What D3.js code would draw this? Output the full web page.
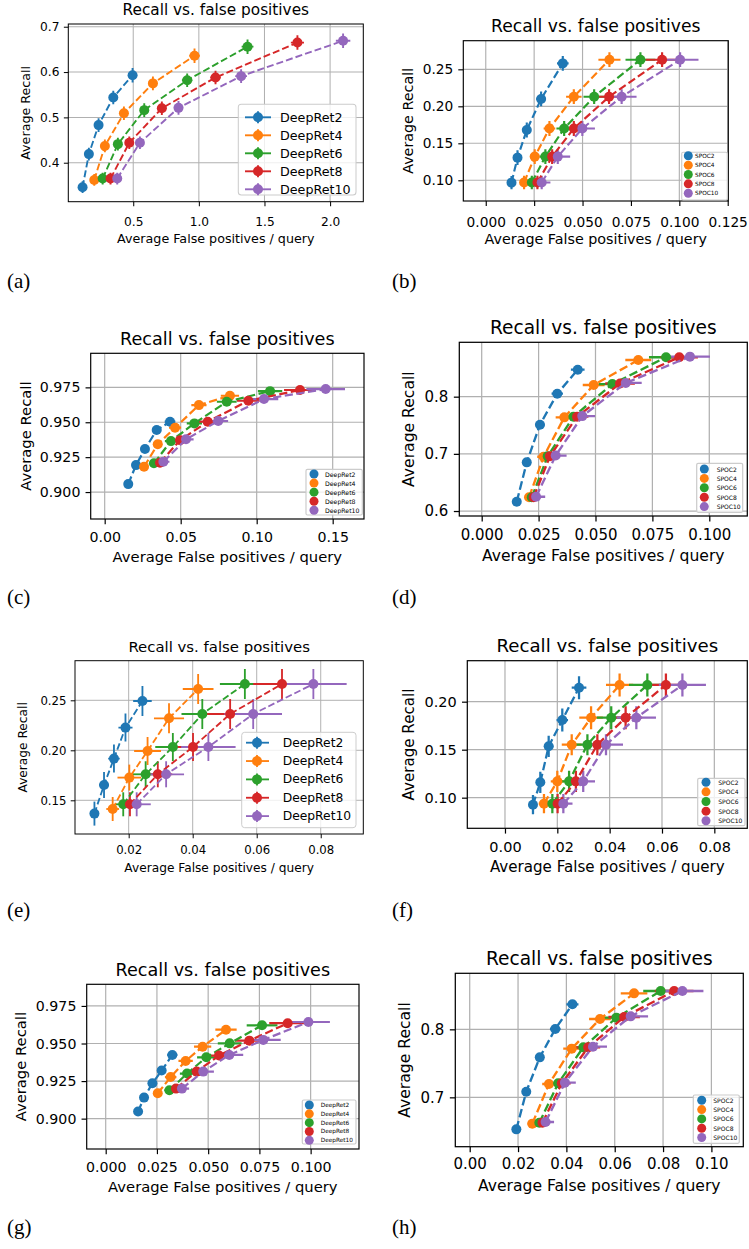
<!DOCTYPE html>
<html>
<head>
<meta charset="utf-8">
<script src="https://cdn.jsdelivr.net/npm/d3@7"></script>
<style>
  html, body { margin: 0; padding: 0; background: #fff; }
  svg { display: block; }
</style>
</head>
<body>
<svg id="chart" width="749" height="1249"></svg>
<script>
// ---------------- DATA ----------------
const deepRetNames = ["DeepRet2", "DeepRet4", "DeepRet6", "DeepRet8", "DeepRet10"];
const spocNames = ["SPOC2", "SPOC4", "SPOC6", "SPOC8", "SPOC10"];
const seriesColors = ["#1f77b4", "#ff7f0e", "#2ca02c", "#d62728", "#9467bd"];
const titleText = "Recall vs. false positives";
const xLabelText = "Average False positives / query";
const yLabelText = "Average Recall";
const panelTags = ["(a)", "(b)", "(c)", "(d)", "(e)", "(f)", "(g)", "(h)"];

// (a)
const fpA = [
  [0.114, 0.162, 0.236, 0.348, 0.495],
  [0.203, 0.284, 0.429, 0.650, 0.967],
  [0.267, 0.383, 0.584, 0.911, 1.371],
  [0.327, 0.470, 0.718, 1.127, 1.751],
  [0.378, 0.551, 0.845, 1.322, 2.099]];
const recallA = [
  [0.346, 0.419, 0.483, 0.544, 0.593],
  [0.362, 0.437, 0.509, 0.575, 0.636],
  [0.365, 0.441, 0.516, 0.582, 0.656],
  [0.365, 0.444, 0.520, 0.588, 0.665],
  [0.365, 0.444, 0.521, 0.591, 0.669]];
const fpErrA = [
  [0.015, 0.020, 0.025, 0.030, 0.035],
  [0.020, 0.025, 0.030, 0.035, 0.040],
  [0.020, 0.025, 0.030, 0.040, 0.045],
  [0.020, 0.025, 0.035, 0.040, 0.050],
  [0.020, 0.030, 0.035, 0.045, 0.055]];
const recallErrA = [
  [0.013, 0.014, 0.015, 0.015, 0.016],
  [0.013, 0.014, 0.015, 0.015, 0.016],
  [0.013, 0.014, 0.015, 0.015, 0.016],
  [0.013, 0.014, 0.015, 0.015, 0.016],
  [0.013, 0.014, 0.015, 0.015, 0.016]];
const xTicksA = [0.5, 1.0, 1.5, 2.0];
const yTicksA = [0.4, 0.5, 0.6, 0.7];

// (b)
const fpB = [
  [0.0133, 0.0164, 0.0212, 0.0286, 0.0398],
  [0.0198, 0.0253, 0.0329, 0.0455, 0.0639],
  [0.0238, 0.0308, 0.0405, 0.0560, 0.0799],
  [0.0267, 0.0343, 0.0455, 0.0637, 0.0911],
  [0.0289, 0.0372, 0.0499, 0.0702, 0.1004]];
const recallB = [
  [0.0968, 0.1306, 0.168, 0.210, 0.258],
  [0.097, 0.132, 0.170, 0.213, 0.263],
  [0.097, 0.132, 0.170, 0.213, 0.263],
  [0.097, 0.132, 0.170, 0.213, 0.263],
  [0.097, 0.132, 0.170, 0.213, 0.263]];
const fpErrB = [
  [0.0012, 0.0015, 0.0020, 0.0025, 0.0030],
  [0.0020, 0.0025, 0.0030, 0.0040, 0.0057],
  [0.0025, 0.0030, 0.0040, 0.0055, 0.0077],
  [0.0030, 0.0035, 0.0045, 0.0060, 0.0085],
  [0.0045, 0.0064, 0.0065, 0.0077, 0.0095]];
const recallErrB = [
  [0.009, 0.010, 0.010, 0.010, 0.010],
  [0.009, 0.010, 0.010, 0.010, 0.010],
  [0.009, 0.010, 0.010, 0.010, 0.010],
  [0.009, 0.010, 0.010, 0.010, 0.010],
  [0.009, 0.010, 0.010, 0.010, 0.010]];
const xTicksB = [0, 0.025, 0.05, 0.075, 0.1, 0.125];
const yTicksB = [0.10, 0.15, 0.20, 0.25];

// (c)
const fpC = [
  [0.0155, 0.0206, 0.0265, 0.0342, 0.0430],
  [0.0259, 0.0349, 0.0463, 0.0620, 0.0824],
  [0.0324, 0.0436, 0.0590, 0.0803, 0.1088],
  [0.0364, 0.0496, 0.0678, 0.0945, 0.1285],
  [0.0386, 0.0535, 0.0747, 0.1048, 0.1454]];
const recallC = [
  [0.9057, 0.9193, 0.9308, 0.9444, 0.9504],
  [0.9181, 0.9342, 0.9461, 0.9623, 0.9690],
  [0.9206, 0.9365, 0.9492, 0.9647, 0.9723],
  [0.9210, 0.9372, 0.9504, 0.9654, 0.9731],
  [0.9217, 0.9378, 0.9509, 0.9666, 0.9738]];
const fpErrC = [
  [0.0015, 0.0020, 0.0025, 0.0030, 0.0035],
  [0.0025, 0.0030, 0.0040, 0.0050, 0.0060],
  [0.0030, 0.0040, 0.0050, 0.0065, 0.0080],
  [0.0035, 0.0045, 0.0060, 0.0075, 0.0105],
  [0.0040, 0.0050, 0.0065, 0.0094, 0.0127]];
const recallErrC = [
  [0.0010, 0.0010, 0.0010, 0.0010, 0.0010],
  [0.0010, 0.0010, 0.0010, 0.0010, 0.0010],
  [0.0010, 0.0010, 0.0010, 0.0010, 0.0010],
  [0.0010, 0.0010, 0.0010, 0.0010, 0.0010],
  [0.0010, 0.0010, 0.0010, 0.0010, 0.0010]];
const xTicksC = [0, 0.05, 0.10, 0.15];
const yTicksC = [0.900, 0.925, 0.950, 0.975];

// (d)
const fpD = [
  [0.0154, 0.0198, 0.0256, 0.0332, 0.0422],
  [0.0208, 0.0272, 0.0363, 0.0492, 0.0688],
  [0.0220, 0.0290, 0.0403, 0.0574, 0.0810],
  [0.0228, 0.0300, 0.0419, 0.0608, 0.0868],
  [0.0239, 0.0325, 0.0442, 0.0633, 0.0915]];
const recallD = [
  [0.6163, 0.6851, 0.7510, 0.8052, 0.8472],
  [0.624, 0.695, 0.7638, 0.8204, 0.8641],
  [0.624, 0.696, 0.765, 0.822, 0.869],
  [0.624, 0.696, 0.765, 0.823, 0.869],
  [0.625, 0.697, 0.766, 0.824, 0.870]];
const fpErrD = [
  [0.0012, 0.0015, 0.0020, 0.0025, 0.0030],
  [0.0020, 0.0028, 0.0038, 0.0048, 0.0057],
  [0.0025, 0.0032, 0.0045, 0.0060, 0.0075],
  [0.0030, 0.0038, 0.0050, 0.0065, 0.0082],
  [0.0040, 0.0048, 0.0056, 0.0070, 0.0088]];
const recallErrD = [
  [0.002, 0.002, 0.002, 0.002, 0.002],
  [0.002, 0.002, 0.002, 0.002, 0.002],
  [0.002, 0.002, 0.002, 0.002, 0.002],
  [0.002, 0.002, 0.002, 0.002, 0.002],
  [0.002, 0.002, 0.002, 0.002, 0.002]];
const xTicksD = [0, 0.025, 0.05, 0.075, 0.1];
const yTicksD = [0.6, 0.7, 0.8];

// (e)
const fpE = [
  [0.0093, 0.0123, 0.0154, 0.0190, 0.0243],
  [0.0150, 0.0202, 0.0259, 0.0326, 0.0417],
  [0.0183, 0.0253, 0.0338, 0.0430, 0.0563],
  [0.0204, 0.0291, 0.0401, 0.0517, 0.0679],
  [0.0225, 0.0317, 0.0449, 0.0589, 0.0777]];
const recallE = [
  [0.1367, 0.1653, 0.1917, 0.2227, 0.2493],
  [0.1413, 0.1727, 0.1993, 0.2320, 0.2613],
  [0.146, 0.176, 0.2033, 0.2363, 0.2663],
  [0.146, 0.176, 0.2033, 0.2363, 0.2663],
  [0.146, 0.176, 0.2033, 0.2363, 0.2663]];
const fpErrE = [
  [0.0012, 0.0015, 0.0018, 0.0022, 0.0029],
  [0.0020, 0.0037, 0.0042, 0.0047, 0.0048],
  [0.0025, 0.0040, 0.0055, 0.0065, 0.0078],
  [0.0030, 0.0045, 0.0065, 0.0075, 0.0090],
  [0.0044, 0.0056, 0.0085, 0.0090, 0.0104]];
const recallErrE = [
  [0.012, 0.013, 0.014, 0.014, 0.015],
  [0.012, 0.013, 0.014, 0.015, 0.015],
  [0.012, 0.013, 0.014, 0.015, 0.015],
  [0.012, 0.013, 0.014, 0.015, 0.015],
  [0.012, 0.013, 0.014, 0.015, 0.015]];
const xTicksE = [0.02, 0.04, 0.06, 0.08];
const yTicksE = [0.15, 0.20, 0.25];

// (f)
const fpF = [
  [0.0107, 0.0135, 0.0167, 0.0219, 0.0283],
  [0.0149, 0.0200, 0.0255, 0.0329, 0.0438],
  [0.0181, 0.0245, 0.0315, 0.0406, 0.0544],
  [0.0201, 0.0271, 0.0353, 0.0461, 0.0615],
  [0.0223, 0.0299, 0.0386, 0.0502, 0.0678]];
const recallF = [
  [0.0927, 0.1160, 0.1535, 0.1809, 0.2146],
  [0.0938, 0.1170, 0.1552, 0.1833, 0.2174],
  [0.0938, 0.1170, 0.1552, 0.1833, 0.2174],
  [0.0938, 0.1170, 0.1552, 0.1833, 0.2174],
  [0.0938, 0.1170, 0.1552, 0.1833, 0.2174]];
const fpErrF = [
  [0.0012, 0.0015, 0.0018, 0.0022, 0.0028],
  [0.0020, 0.0025, 0.0038, 0.0045, 0.0052],
  [0.0025, 0.0030, 0.0045, 0.0055, 0.0070],
  [0.0030, 0.0035, 0.0050, 0.0063, 0.0078],
  [0.0035, 0.0045, 0.0065, 0.0075, 0.0090]];
const recallErrF = [
  [0.010, 0.011, 0.011, 0.012, 0.012],
  [0.010, 0.011, 0.011, 0.012, 0.012],
  [0.010, 0.011, 0.011, 0.012, 0.012],
  [0.010, 0.011, 0.011, 0.012, 0.012],
  [0.010, 0.011, 0.011, 0.012, 0.012]];
const xTicksF = [0, 0.02, 0.04, 0.06, 0.08];
const yTicksF = [0.10, 0.15, 0.20];

// (g)
const fpG = [
  [0.0158, 0.0187, 0.0228, 0.0273, 0.0325],
  [0.0254, 0.0317, 0.0390, 0.0473, 0.0587],
  [0.0311, 0.0397, 0.0491, 0.0605, 0.0763],
  [0.0343, 0.0444, 0.0553, 0.0701, 0.0888],
  [0.0372, 0.0476, 0.0603, 0.0769, 0.0989]];
const recallG = [
  [0.9047, 0.9140, 0.9235, 0.9320, 0.9424],
  [0.9169, 0.9277, 0.9384, 0.9479, 0.9592],
  [0.9189, 0.9300, 0.9408, 0.9501, 0.9621],
  [0.9200, 0.9313, 0.9420, 0.9519, 0.9635],
  [0.9200, 0.9313, 0.9424, 0.9524, 0.9643]];
const fpErrG = [
  [0.0010, 0.0012, 0.0015, 0.0020, 0.0025],
  [0.0020, 0.0028, 0.0035, 0.0042, 0.0052],
  [0.0025, 0.0035, 0.0045, 0.0058, 0.0075],
  [0.0030, 0.0040, 0.0055, 0.0070, 0.0090],
  [0.0035, 0.0052, 0.0068, 0.0085, 0.0105]];
const recallErrG = [
  [0.0015, 0.0015, 0.0015, 0.0015, 0.0015],
  [0.0015, 0.0015, 0.0015, 0.0015, 0.0015],
  [0.0015, 0.0015, 0.0015, 0.0015, 0.0015],
  [0.0015, 0.0015, 0.0015, 0.0015, 0.0015],
  [0.0015, 0.0015, 0.0015, 0.0015, 0.0015]];
const xTicksG = [0, 0.025, 0.05, 0.075, 0.1];
const yTicksG = [0.900, 0.925, 0.950, 0.975];

// (h)
const fpH = [
  [0.0193, 0.0234, 0.0290, 0.0354, 0.0425],
  [0.0259, 0.0328, 0.0422, 0.0539, 0.0680],
  [0.0288, 0.0366, 0.0470, 0.0607, 0.0790],
  [0.0301, 0.0381, 0.0490, 0.0639, 0.0846],
  [0.0314, 0.0394, 0.0510, 0.0666, 0.0880]];
const recallH = [
  [0.6529, 0.7083, 0.7588, 0.8005, 0.8368],
  [0.6613, 0.7196, 0.7716, 0.8152, 0.8529],
  [0.6627, 0.7206, 0.7735, 0.8172, 0.8564],
  [0.6627, 0.7206, 0.7735, 0.8181, 0.8564],
  [0.6637, 0.7216, 0.7745, 0.8191, 0.8564]];
const fpErrH = [
  [0.0012, 0.0015, 0.0018, 0.0022, 0.0025],
  [0.0020, 0.0028, 0.0035, 0.0045, 0.0055],
  [0.0025, 0.0032, 0.0045, 0.0058, 0.0072],
  [0.0030, 0.0037, 0.0050, 0.0065, 0.0080],
  [0.0035, 0.0045, 0.0058, 0.0072, 0.0087]];
const recallErrH = [
  [0.003, 0.003, 0.003, 0.003, 0.003],
  [0.003, 0.003, 0.003, 0.003, 0.003],
  [0.003, 0.003, 0.003, 0.003, 0.003],
  [0.003, 0.003, 0.003, 0.003, 0.003],
  [0.003, 0.003, 0.003, 0.003, 0.003]];
const xTicksH = [0, 0.02, 0.04, 0.06, 0.08, 0.10];
const yTicksH = [0.7, 0.8];

// ---------------- LAYOUT ----------------
const panels = [
  { box: [68.3, 24, 363.3, 201.7], xdom: [0.0053, 2.253], ydom: [0.314, 0.706],
    xt: xTicksA, yt: yTicksA, xf: ".1f", yf: ".1f", fs: 12.7, tfs: 15.3, tickDy: 24.5, labDy: 41, ylabX: 25,
    fp: fpA, rec: recallA, fpe: fpErrA, rece: recallErrA, names: deepRetNames,
    leg: { big: true, box: [238.3, 104.3, 356, 195], l0: 245, l1: 271, mx: 258, tx: 280, y0: 117.3, dy: 18, fs: 12.7 },
    tag: [7, 288] },
  { box: [463.3, 40.7, 728.3, 201], xdom: [-0.0116, 0.1253], ydom: [0.072, 0.2887],
    xt: xTicksB, yt: yTicksB, xf: ".3f", yf: ".2f", fs: 14.3, tfs: 17.2, tickDy: 26, labDy: 42.7, ylabX: 408.3,
    fp: fpB, rec: recallB, fpe: fpErrB, rece: recallErrB, names: spocNames,
    leg: { big: false, box: [681.7, 152.3, 727.3, 200], mx: 688.3, tx: 695, y0: 155.8, dy: 9.35, fs: 5.8 },
    tag: [392, 288] },
  { box: [90.7, 353.3, 364, 519], xdom: [-0.0092, 0.1706], ydom: [0.8807, 0.9994],
    xt: xTicksC, yt: yTicksC, xf: ".2f", yf: ".3f", fs: 14.75, tfs: 17.6, tickDy: 22.5, labDy: 42.7, ylabX: 25,
    fp: fpC, rec: recallC, fpe: fpErrC, rece: recallErrC, names: deepRetNames,
    leg: { big: false, box: [306, 469.3, 362.3, 515], mx: 314, tx: 325, y0: 474, dy: 9.07, fs: 6.2 },
    tag: [7, 604] },
  { box: [459.3, 342.3, 747.3, 516], xdom: [-0.00984, 0.1167], ydom: [0.5913, 0.8951],
    xt: xTicksD, yt: yTicksD, xf: ".3f", yf: ".1f", fs: 15.6, tfs: 18.6, tickDy: 24, labDy: 44.7, ylabX: 409.3,
    fp: fpD, rec: recallD, fpe: fpErrD, rece: recallErrD, names: spocNames,
    leg: { big: false, box: [696.7, 463.3, 742.7, 512.3], mx: 704.3, tx: 716.7, y0: 469, dy: 9.4, fs: 6 },
    tag: [392, 604] },
  { box: [75, 660.7, 363.3, 834], xdom: [0.00323, 0.0933], ydom: [0.1163, 0.2896],
    xt: xTicksE, yt: yTicksE, xf: ".2f", yf: ".2f", fs: 12.2, tfs: 14.9, tickDy: 20.3, labDy: 38.3, ylabX: 23.3,
    fp: fpE, rec: recallE, fpe: fpErrE, rece: recallErrE, names: deepRetNames,
    leg: { big: true, box: [241.7, 732.3, 356, 827.7], l0: 246, l1: 269, mx: 257, tx: 282.7, y0: 742.7, dy: 18.35, fs: 12.3 },
    tag: [7, 917] },
  { box: [467.3, 660.7, 747.3, 828.3], xdom: [-0.0144, 0.0926], ydom: [0.0681, 0.2427],
    xt: xTicksF, yt: yTicksF, xf: ".2f", yf: ".2f", fs: 15.1, tfs: 18.2, tickDy: 23.4, labDy: 43.7, ylabX: 409.3,
    fp: fpF, rec: recallF, fpe: fpErrF, rece: recallErrF, names: spocNames,
    leg: { big: false, box: [697.7, 778.3, 745, 825.7], mx: 706, tx: 718.3, y0: 782.2, dy: 9.65, fs: 6 },
    tag: [392, 917] },
  { box: [86.7, 984.3, 359, 1149], xdom: [-0.00927, 0.1236], ydom: [0.8798, 0.9894],
    xt: xTicksG, yt: yTicksG, xf: ".3f", yf: ".3f", fs: 14.75, tfs: 17.6, tickDy: 23.3, labDy: 43.3, ylabX: 20,
    fp: fpG, rec: recallG, fpe: fpErrG, rece: recallErrG, names: deepRetNames,
    leg: { big: false, box: [302.3, 1100, 356, 1144], mx: 309.3, tx: 320.7, y0: 1105, dy: 8.83, fs: 5.8 },
    tag: [7, 1234] },
  { box: [455.3, 973.3, 743.3, 1146.7], xdom: [-0.00596, 0.1132], ydom: [0.6274, 0.8824],
    xt: xTicksH, yt: yTicksH, xf: ".2f", yf: ".1f", fs: 15.6, tfs: 18.6, tickDy: 22.6, labDy: 44, ylabX: 405,
    fp: fpH, rec: recallH, fpe: fpErrH, rece: recallErrH, names: spocNames,
    leg: { big: false, box: [693.3, 1095, 739.3, 1143.3], mx: 701.7, tx: 713.3, y0: 1100.3, dy: 9.3, fs: 6 },
    tag: [392, 1234] }
];

const FONT = "'DejaVu Sans', sans-serif";
const svg = d3.select("#chart");
svg.append("rect").attr("width", 749).attr("height", 1249).attr("fill", "#fff");

panels.forEach((p, pi) => {
  const [L, T, R, B] = p.box;
  const s = p.fs / 10;             // px per pt
  const lw = 1.5 * s;
  const dash = `${(3.7 * lw).toFixed(2)},${(1.6 * lw).toFixed(2)}`;
  const mr = 5;
  const g = svg.append("g");
  const x = d3.scaleLinear().domain(p.xdom).range([L, R]);
  const y = d3.scaleLinear().domain(p.ydom).range([B, T]);
  const clipId = "clip" + pi;
  g.append("clipPath").attr("id", clipId).append("rect")
    .attr("x", L).attr("y", T).attr("width", R - L).attr("height", B - T);

  // grid
  const grid = g.append("g").attr("stroke", "#b0b0b0").attr("stroke-width", 0.8 * s);
  grid.selectAll(".gx").data(p.xt).join("line")
    .attr("x1", d => x(d)).attr("x2", d => x(d)).attr("y1", T).attr("y2", B);
  grid.selectAll(".gy").data(p.yt).join("line")
    .attr("x1", L).attr("x2", R).attr("y1", d => y(d)).attr("y2", d => y(d));

  // axes
  const tickLen = 3.5 * s;
  const tfsTick = p.fs * 0.96;
  const xAxis = d3.axisBottom(x).tickValues(p.xt).tickFormat(d3.format(p.xf))
    .tickSize(tickLen).tickPadding(p.tickDy - tickLen - 0.71 * tfsTick);
  const yAxis = d3.axisLeft(y).tickValues(p.yt).tickFormat(d3.format(p.yf))
    .tickSize(tickLen).tickPadding(3.5 * s);
  const gx = g.append("g").attr("transform", `translate(0,${B})`).call(xAxis);
  const gy = g.append("g").attr("transform", `translate(${L},0)`).call(yAxis);
  [gx, gy].forEach(ax => {
    ax.select(".domain").remove();
    ax.selectAll(".tick line").attr("stroke", "#000").attr("stroke-width", 0.8 * s);
    ax.selectAll(".tick text").attr("fill", "#000").style("font-family", FONT).style("font-size", tfsTick + "px");
  });

  // data
  const plot = g.append("g").attr("clip-path", `url(#${clipId})`);
  const series = p.names.map((n, i) => ({
    name: n, color: seriesColors[i],
    pts: p.fp[i].map((v, j) => ({ x: v, y: p.rec[i][j], xe: p.fpe[i][j], ye: p.rece[i][j] }))
  }));
  // error bars first
  series.forEach(se => {
    const eb = plot.append("g").attr("stroke", se.color).attr("stroke-width", lw);
    eb.selectAll(".ex").data(se.pts).join("line")
      .attr("x1", d => x(d.x - d.xe)).attr("x2", d => x(d.x + d.xe))
      .attr("y1", d => y(d.y)).attr("y2", d => y(d.y));
    eb.selectAll(".ey").data(se.pts).join("line")
      .attr("x1", d => x(d.x)).attr("x2", d => x(d.x))
      .attr("y1", d => y(d.y - d.ye)).attr("y2", d => y(d.y + d.ye));
  });
  const line = d3.line().x(d => x(d.x)).y(d => y(d.y));
  series.forEach(se => {
    plot.append("path").datum(se.pts).attr("d", line)
      .attr("fill", "none").attr("stroke", se.color).attr("stroke-width", lw)
      .attr("stroke-dasharray", dash);
    plot.selectAll(null).data(se.pts).join("circle")
      .attr("cx", d => x(d.x)).attr("cy", d => y(d.y)).attr("r", mr)
      .attr("fill", se.color);
  });

  // frame
  g.append("rect").attr("x", L).attr("y", T).attr("width", R - L).attr("height", B - T)
    .attr("fill", "none").attr("stroke", "#000").attr("stroke-width", 0.8 * s);

  // title and labels
  g.append("text").attr("x", (L + R) / 2).attr("y", T - 8.7)
    .attr("text-anchor", "middle").style("font-family", FONT).style("font-size", p.tfs + "px")
    .attr("fill", "#000").text(titleText);
  g.append("text").attr("x", (L + R) / 2).attr("y", B + p.labDy)
    .attr("text-anchor", "middle").style("font-family", FONT).style("font-size", p.fs + "px")
    .attr("fill", "#000").text(xLabelText);
  g.append("text").attr("transform", `translate(${p.ylabX},${(T + B) / 2}) rotate(-90)`)
    .attr("text-anchor", "middle").attr("dominant-baseline", "central")
    .style("font-family", FONT).style("font-size", p.fs + "px")
    .attr("fill", "#000").text(yLabelText);

  // legend
  const lg = p.leg;
  const lgG = g.append("g");
  lgG.append("rect").attr("x", lg.box[0]).attr("y", lg.box[1])
    .attr("width", lg.box[2] - lg.box[0]).attr("height", lg.box[3] - lg.box[1])
    .attr("rx", lg.big ? 3 : 1.5).attr("fill", "#fff").attr("fill-opacity", 0.8)
    .attr("stroke", "#cccccc").attr("stroke-width", 0.8 * s);
  const rows = lgG.selectAll(".row").data(series).join("g")
    .attr("transform", (d, i) => `translate(0,${lg.y0 + i * lg.dy})`);
  if (lg.big) {
    rows.append("line").attr("x1", lg.l0).attr("x2", lg.l1).attr("y1", 0).attr("y2", 0)
      .attr("stroke", d => d.color).attr("stroke-width", lw);
    rows.append("line").attr("x1", lg.mx).attr("x2", lg.mx).attr("y1", -6).attr("y2", 6)
      .attr("stroke", d => d.color).attr("stroke-width", lw);
    rows.append("circle").attr("cx", lg.mx).attr("cy", 0).attr("r", mr).attr("fill", d => d.color);
  } else {
    rows.append("circle").attr("cx", lg.mx).attr("cy", 0).attr("r", 4.5).attr("fill", d => d.color);
  }
  rows.append("text").attr("x", lg.tx).attr("y", 0).attr("dominant-baseline", "central")
    .style("font-family", FONT).style("font-size", lg.fs + "px").attr("fill", "#000")
    .text(d => d.name);

  // panel tag
  svg.append("text").attr("x", p.tag[0]).attr("y", p.tag[1])
    .style("font-family", "'Liberation Serif', 'DejaVu Serif', serif").style("font-size", "21px")
    .attr("fill", "#000").text(panelTags[pi]);
});
</script>
</body>
</html>
